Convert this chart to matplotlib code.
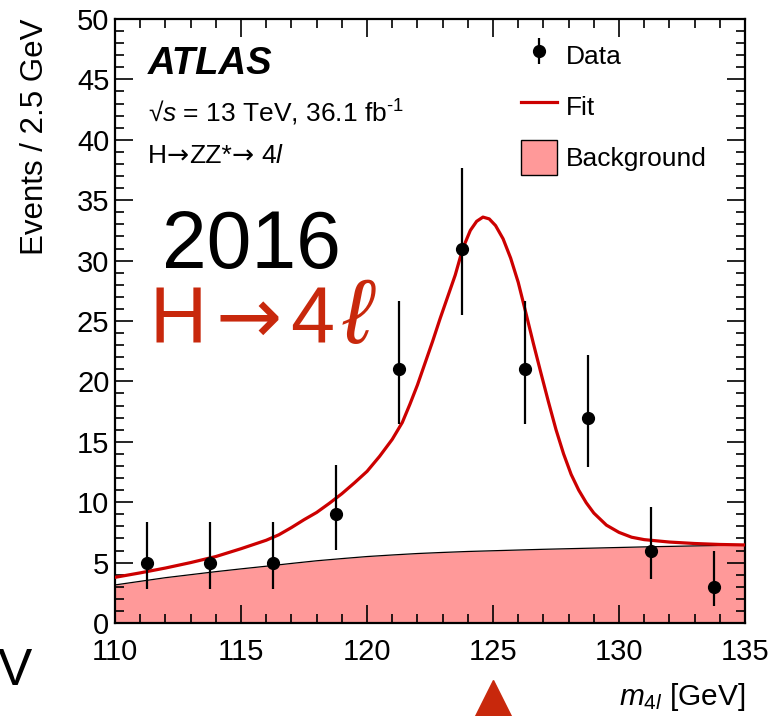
import matplotlib
matplotlib.use("Agg")
import matplotlib.pyplot as plt
import matplotlib.transforms as mtransforms
from matplotlib.patches import Patch
from matplotlib.lines import Line2D
from matplotlib.ticker import MultipleLocator
from matplotlib.offsetbox import TextArea, HPacker, AnchoredOffsetbox

plt.rcParams['font.family'] = ['Liberation Sans', 'DejaVu Sans']
plt.rcParams['mathtext.fontset'] = 'custom'
plt.rcParams['mathtext.rm'] = 'Liberation Sans'
plt.rcParams['mathtext.it'] = 'Liberation Sans:italic'
plt.rcParams['mathtext.bf'] = 'Liberation Sans:bold'

# --- data: m4l histogram (2.5 GeV bins) ---
bin_centers = [111.25, 113.75, 116.25, 118.75, 121.25,
               123.75, 126.25, 128.75, 131.25, 133.75]
events = [5, 5, 5, 9, 21, 31, 21, 17, 6, 3]
# 68% Poisson interval bounds for each bin
interval_low = [2.84, 2.84, 2.84, 6.06, 16.46, 25.47, 16.46, 12.93, 3.62, 1.37]
interval_high = [8.38, 8.38, 8.38, 13.11, 26.65, 37.63, 26.65, 22.20, 9.58, 5.92]

# --- background (ZZ* continuum) ---
bkg_mass = [110, 111, 112, 113, 114, 115, 116, 117, 118, 119, 120, 121, 122,
            123, 124, 125, 126, 127, 128, 129, 130, 131, 132, 133, 134, 135]
bkg_events = [3.15, 3.45, 3.75, 4.00, 4.25, 4.48, 4.70, 4.93, 5.15, 5.33,
              5.50, 5.63, 5.75, 5.84, 5.92, 5.98, 6.04, 6.10, 6.15, 6.20,
              6.25, 6.30, 6.34, 6.38, 6.42, 6.45]

# --- signal + background fit ---
fit_mass = [110.0, 111.0, 112.0, 113.0, 114.0, 115.0, 116.0, 116.5, 117.0,
            117.5, 118.0, 118.5, 119.0, 119.5, 120.0, 120.5, 121.0, 121.4,
            121.7, 122.0, 122.3, 122.6, 122.9, 123.2, 123.5, 123.8, 124.1,
            124.35, 124.6, 124.85, 125.1, 125.4, 125.7, 126.0, 126.3, 126.6,
            126.9, 127.2, 127.5, 127.8, 128.1, 128.4, 128.7, 129.0, 129.5,
            130.0, 130.5, 131.0, 132.0, 133.0, 134.0, 135.0]
fit_events = [3.78, 4.15, 4.55, 5.00, 5.50, 6.15, 6.85, 7.30, 7.90,
              8.55, 9.15, 9.90, 10.70, 11.60, 12.55, 13.80, 15.20, 16.60,
              18.10, 19.70, 21.50, 23.30, 25.20, 27.00, 28.80, 31.00, 32.50,
              33.25, 33.60, 33.45, 32.90, 31.80, 30.20, 28.20, 25.70, 23.15,
              20.70, 18.30, 16.00, 14.00, 12.30, 11.00, 9.95, 9.10, 8.10,
              7.50, 7.10, 6.90, 6.70, 6.58, 6.50, 6.46]

x_range = (110, 135)
y_range = (0, 50)
higgs_mass_marker = 125

bkg_color = '#FF9999'
fit_color = '#CC0000'
accent = '#C8280C'


def mixed_text(ax, parts, xy, fontsize, color='black', sep=0):
    """Place a run of text pieces (each with its own font family) side by side."""
    areas = []
    for txt, fam, size_scale in parts:
        areas.append(TextArea(txt, textprops=dict(fontsize=fontsize * size_scale,
                                                  color=color, family=fam)))
    box = HPacker(children=areas, align='baseline', pad=0, sep=sep)
    anchored = AnchoredOffsetbox(loc='center left', child=box, pad=0,
                                 borderpad=0, frameon=False,
                                 bbox_to_anchor=xy, bbox_transform=ax.transAxes)
    ax.add_artist(anchored)
    return anchored


fig = plt.figure(figsize=(7.71, 7.16), dpi=100)
ax = fig.add_axes([0.1492, 0.1299, 0.8171, 0.8436])

ax.fill_between(bkg_mass, 0, bkg_events, color=bkg_color, lw=0, zorder=1)
ax.plot(bkg_mass, bkg_events, color='black', lw=0.9, zorder=2)
ax.plot(fit_mass, fit_events, color=fit_color, lw=2.3, zorder=3,
        solid_capstyle='round', solid_joinstyle='round')

yerr_lo = [n - lo for n, lo in zip(events, interval_low)]
yerr_hi = [hi - n for n, hi in zip(events, interval_high)]
data_handle = ax.errorbar(bin_centers, events, yerr=[yerr_lo, yerr_hi],
                          fmt='o', color='black', ms=8.5, elinewidth=1.6,
                          capsize=0, zorder=5)

ax.set_xlim(*x_range)
ax.set_ylim(*y_range)

ax.xaxis.set_major_locator(MultipleLocator(5))
ax.xaxis.set_minor_locator(MultipleLocator(1))
ax.yaxis.set_major_locator(MultipleLocator(5))
ax.yaxis.set_minor_locator(MultipleLocator(1))
ax.tick_params(which='both', direction='in', top=True, right=True,
               width=1.2, colors='black')
ax.tick_params(which='major', length=13)
ax.tick_params(which='minor', length=6.5)
ax.tick_params(axis='x', which='major', labelsize=21, pad=11)
ax.tick_params(axis='y', which='major', labelsize=21, pad=4)
for sp in ax.spines.values():
    sp.set_linewidth(1.6)

ax.set_ylabel('Events / 2.5 GeV', fontsize=22.5, loc='top')
ax.yaxis.set_label_coords(-0.103, 1.0)
ax.set_xlabel(r'$m_{4l}$ [GeV]', fontsize=21.5, loc='right', va='baseline')
ax.xaxis.set_label_coords(1.0, -0.1358)

# labels inside the frame
sans = ['Liberation Sans']
arrow_font = ['DejaVu Sans']
ax.text(0.052, 0.925, 'ATLAS', transform=ax.transAxes, fontsize=27.5,
        fontweight='bold', fontstyle='italic', va='center', ha='left')
ax.text(0.052, 0.844, r'√$s$ = 13 TeV, 36.1 fb$^{\text{-1}}$',
        transform=ax.transAxes, fontsize=19, va='center', ha='left')
mixed_text(ax, [('H', sans, 1.0), ('→', arrow_font, 1.0), ('ZZ*', sans, 1.0),
                ('→', arrow_font, 1.0), (' 4$l$', sans, 1.0)],
           (0.052, 0.773), fontsize=19)
ax.text(0.074, 0.622, '2016', transform=ax.transAxes, fontsize=58,
        va='center', ha='left', color='black')
mixed_text(ax, [('H', sans, 1.0), ('→', arrow_font, 1.0), ('4', sans, 1.0),
                (r'$\ell$', sans, 1.15)],
           (0.055, 0.503), fontsize=57, color=accent, sep=6)

legend_handles = [
    data_handle,
    Line2D([], [], color=fit_color, lw=2.3),
    Patch(facecolor=bkg_color, edgecolor='black', lw=1.0),
]
ax.legend(legend_handles, ['Data', 'Fit', 'Background'], loc='upper left',
          bbox_to_anchor=(0.644, 0.969), frameon=False, fontsize=19,
          borderpad=0, borderaxespad=0, handlelength=1.36, handleheight=1.66,
          handletextpad=0.35, labelspacing=0.62)

# marker under the axis at the Higgs mass
tr = mtransforms.blended_transform_factory(ax.transData, fig.transFigure)
ax.plot([higgs_mass_marker], [0.0223], marker='^', ms=29, color=accent,
        transform=tr, clip_on=False, lw=0)

fig.text(-0.0026, 0.0433, 'V', fontsize=37, va='baseline', ha='left')

fig.savefig('out.png', dpi=100)
